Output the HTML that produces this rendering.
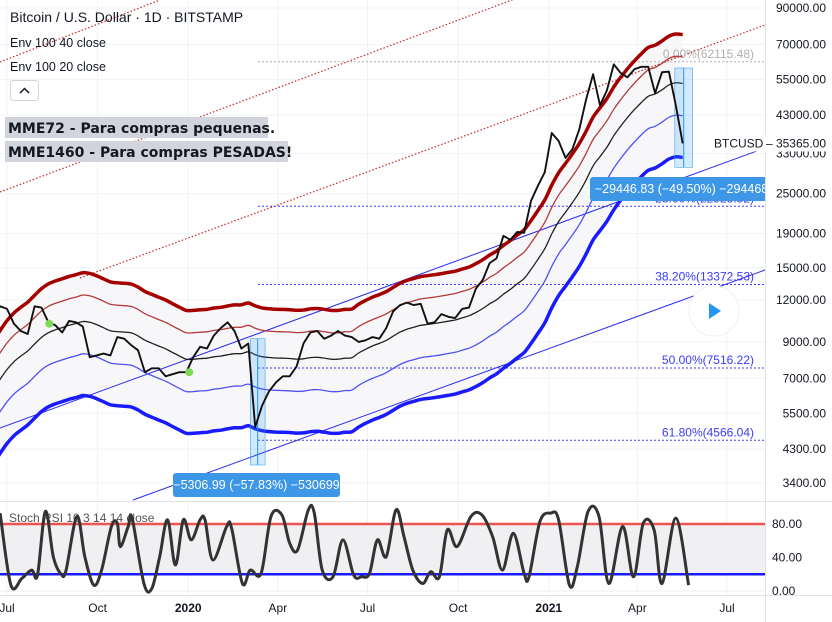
<!DOCTYPE html>
<html><head><meta charset="utf-8"><style>
body{margin:0;background:#fff;font-family:"Liberation Sans",sans-serif}
svg{display:block}
</style></head><body>
<svg id="chart" width="832" height="622" viewBox="0 0 832 622" xmlns="http://www.w3.org/2000/svg" font-family="Liberation Sans, sans-serif">
<defs>
<clipPath id="mainClip"><rect x="0" y="0" width="765" height="501"/></clipPath>
<clipPath id="stochClip"><rect x="0" y="502" width="765" height="93"/></clipPath>
</defs>
<rect width="832" height="622" fill="#fff"/>
<g id="grid"></g>
<g id="main" clip-path="url(#mainClip)"></g>
<g id="stoch"></g>
<g id="axes"></g>
<g id="overlay">
<text x="10" y="22" font-size="14" fill="#131722">Bitcoin / U.S. Dollar · 1D · BITSTAMP</text>
<text x="10" y="47" font-size="12.5" fill="#131722">Env 100 40 close</text>
<text x="10" y="71" font-size="12.5" fill="#131722">Env 100 20 close</text>
<g><rect x="10.5" y="80.5" width="28" height="20" rx="3" fill="#fff" stroke="#d1d4dc"/><path d="M20 93 L24.5 88.5 L29 93" fill="none" stroke="#131722" stroke-width="1.5"/></g>
<rect x="5" y="117" width="263" height="21" fill="#d1d4dc"/>
<text x="8" y="133" font-size="14" font-weight="bold" fill="#131722" font-family="DejaVu Sans, sans-serif">MME72 - Para compras pequenas.</text>
<rect x="5" y="141" width="283" height="21" fill="#d1d4dc"/>
<text x="8" y="157" font-size="14" font-weight="bold" fill="#131722" font-family="DejaVu Sans, sans-serif">MME1460 - Para compras PESADAS!</text>
<g><circle cx="714" cy="311" r="25" fill="#fff" stroke="#eef0f3"/><path d="M709 303 L721 311 L709 319 Z" fill="#2196f3"/></g>
</g>
</svg>
<script>
const startDay = -119; // 2019-03-04 relative to 2019-07-01
const weeklyCloses = [3900,4000,4000,4100,5000,5100,5300,5200,5700,7200,7300,8000,8500,7800,8900,10700,11500,
11300,10200,9700,9500,11500,11400,10300,10100,9600,10400,10300,10000,8100,8200,8300,8200,9300,9200,8800,8500,7300,7500,7500,7100,7200,7300,7300,
8100,8700,8600,9400,9900,10300,9700,8600,8900,5000,5800,6400,6800,7100,7100,7600,8900,9600,9700,9200,9400,9700,9400,9300,9000,9100,9300,9200,9900,11100,11600,11800,11600,11700,10200,10300,10900,10700,10600,11300,11400,13000,13800,15500,16000,18700,18200,19200,19100,23800,26400,29000,
38000,36000,32000,34000,39000,48000,57000,46000,51000,61000,57500,55800,59000,60000,60000,50000,57800,58000,46000,35365];
const priceTicks = [90000,70000,55000,43000,33000,25000,19000,15000,12000,9000,7000,5500,4300,3400];
const timeLabels = ["Jul","Oct","2020","Apr","Jul","Oct","2021","Apr","Jul"];
const timeDays = [0,92,184,275,366,458,550,640,731];
const fibLevels = [62115.48,22923.52,13372.53,7516.22,4566.04];
const fibLabels = ["0.00%(62115.48)","23.60%(22923.52)","38.20%(13372.53)","50.00%(7516.22)","61.80%(4566.04)"];
const stochDays = [-7,4,15,25,31,39,47,55,60,71,79,88,96,106,112,115,123,127,139,147,155,163,171,179,187,196,201,209,223,228,239,247,258,268,279,287,295,306,312,320,331,341,352,360,368,376,385,395,403,412,422,430,439,447,457,471,482,493,503,514,525,530,541,552,560,571,579,590,601,611,625,636,646,657,665,679,692];
const stochVals = [93,7,15,25,19,95,41,20,25,89,41,7,25,77,81,53,77,87,9,3,41,85,31,85,61,85,85,37,77,75,9,25,21,89,91,57,49,97,93,25,17,61,19,17,21,61,41,97,65,25,9,23,17,73,53,89,91,65,25,69,21,17,83,93,85,7,29,95,89,9,77,17,81,73,9,87,7];
const stochTicks = [80,40,0];

const NS="http://www.w3.org/2000/svg";
function el(tag,attrs,parent){const e=document.createElementNS(NS,tag);for(const k in attrs)e.setAttribute(k,attrs[k]);parent.appendChild(e);return e;}
const xOf = d => 7 + d*0.985;
const yOf = p => 8 + (Math.log(90000)-Math.log(p))*145;
const sY = v => 591 - v*0.8375;
function smooth(pts){let d='M'+pts[0][0].toFixed(1)+' '+pts[0][1].toFixed(1);
for(let i=0;i<pts.length-1;i++){const p0=pts[Math.max(0,i-1)],p1=pts[i],p2=pts[i+1],p3=pts[Math.min(pts.length-1,i+2)];
const c1=[p1[0]+(p2[0]-p0[0])/6,p1[1]+(p2[1]-p0[1])/6],c2=[p2[0]-(p3[0]-p1[0])/6,p2[1]-(p3[1]-p1[1])/6];
d+=' C'+c1[0].toFixed(1)+' '+c1[1].toFixed(1)+' '+c2[0].toFixed(1)+' '+c2[1].toFixed(1)+' '+p2[0].toFixed(1)+' '+p2[1].toFixed(1);}
return d;}
const grid=document.getElementById('grid'),main=document.getElementById('main'),stoch=document.getElementById('stoch'),axes=document.getElementById('axes');

priceTicks.forEach(p=>{const g=el('line',{x1:0,x2:765,y1:yOf(p),y2:yOf(p),stroke:'#f0f3fa'},grid);

});
timeDays.forEach(d=>{const g=el('line',{x1:xOf(d),x2:xOf(d),y1:0,y2:595,stroke:'#f0f3fa'},grid);

});

const days = weeklyCloses.map((c,i)=>startDay+7*i);
const ma = weeklyCloses.map((c,i)=>{const s=weeklyCloses.slice(Math.max(0,i-14),i+1);return s.reduce((a,b)=>a+b,0)/s.length;});
const bandPts=f=>ma.map((v,i)=>[xOf(days[i]),yOf(v*f)]);
const up40=bandPts(1.4), lo40=bandPts(0.6);
let fillD = up40.map((p,i)=>(i?'L':'M')+p[0].toFixed(1)+' '+p[1].toFixed(1)).join(' ');
for(let i=lo40.length-1;i>=0;i--) fillD+=' L'+lo40[i][0].toFixed(1)+' '+lo40[i][1].toFixed(1);
const fill=el('path',{d:fillD+'Z',fill:'#f7f7f9'},main);



[[0,192,765,-95],[80,278,765,25],[0,62,160,0]].forEach(l=>{const e=el('line',{x1:l[0],y1:l[1],x2:l[2],y2:l[3],stroke:'#c62828','stroke-dasharray':'1.5 2','stroke-width':1.2},main);

});
[[0,428,765,148],[133,500,765,270]].forEach(l=>{const e=el('line',{x1:l[0],y1:l[1],x2:l[2],y2:l[3],stroke:'#2b2bf0','stroke-width':1},main);

});
fibLevels.forEach((p,i)=>{const y=yOf(p);
const l=el('line',{x1:258,x2:765,y1:y,y2:y,stroke:i?'#3b3bf5':'#b0b0b0','stroke-dasharray':'2 2'},main);


const t=el('text',{x:754,y:y-4,'font-size':12,'text-anchor':'end',fill:i?'#3b3bf5':'#b0b0b0'},main);t.textContent=fibLabels[i];

});

[[1.4,'#a50000',3.5,'envelope-upper-40'],[1.2,'#b33a3a',1.3,'envelope-upper-20'],[1,'#222',1.3,'moving-average'],[0.8,'#5050f5',1.3,'envelope-lower-20'],[0.6,'#1a1aff',3.5,'envelope-lower-40']].forEach(b=>{
const e=el('path',{d:smooth(bandPts(b[0])),fill:'none',stroke:b[1],'stroke-width':b[2],'stroke-linejoin':'round'},main);

});

function measure(d0,d1,p0,p1,name){const x0=xOf(d0),x1=xOf(d1);const r=el('rect',{x:x0,y:yOf(p0),width:x1-x0,height:yOf(p1)-yOf(p0),fill:'rgba(33,150,243,0.2)',stroke:'#2196f3','stroke-width':0.5},main);


const ln=el('line',{x1:(x0+x1)/2,x2:(x0+x1)/2,y1:yOf(p0),y2:yOf(p1),stroke:'#2196f3'},main);

}
measure(247,262,9200,3850,'measure-2020-range');
measure(678,696,59500,30000,'measure-2021-range');

const pl=el('path',{d:weeklyCloses.map((v,i)=>(i?'L':'M')+xOf(days[i]).toFixed(1)+' '+yOf(v).toFixed(1)).join(' '),fill:'none',stroke:'#111','stroke-width':1.9,'stroke-linejoin':'round'},main);


[[50,10200],[192,7300]].forEach(g=>{const c=el('circle',{cx:xOf(g[0]-7),cy:yOf(g[1]),r:4,fill:'#7ed957'},main);

});

function label(x,y,w,txt,name){const r=el('rect',{x:x,y:y,width:w,height:24,rx:3,fill:'#3d97e6'},main);


const t=el('text',{x:x+w/2,y:y+16,'font-size':12.5,'text-anchor':'middle',fill:'#fff'},main);t.textContent=txt;

}
label(173,473,167,'\u22125306.99 (\u221257.83%) \u2212530699','measure-label-2020');
label(590,177,190,'\u221229446.83 (\u221249.50%) \u22122944683','measure-label-2021');

const ax=el('line',{x1:765.5,x2:765.5,y1:0,y2:622,stroke:'#e0e3eb'},axes);


priceTicks.forEach(p=>{const t=el('text',{x:826,y:yOf(p)+4,'font-size':12,'text-anchor':'end',fill:'#131722'},axes);t.textContent=p.toFixed(2);

});
const last=weeklyCloses[weeklyCloses.length-1];
const lb=el('rect',{x:710,y:yOf(last)-9,width:122,height:17,fill:'#fff'},axes);


const lt=el('text',{x:714,y:yOf(last)+4,'font-size':12,fill:'#131722'},axes);lt.textContent='BTCUSD';


const lv=el('text',{x:826,y:yOf(last)+4,'font-size':12,'text-anchor':'end',fill:'#131722'},axes);lv.textContent='\u2013 '+last.toFixed(2);



const sep=el('line',{x1:0,x2:832,y1:501.5,y2:501.5,stroke:'#e0e3eb'},stoch);


const sb=el('rect',{x:0,y:sY(80),width:765,height:sY(20)-sY(80),fill:'#f0f0f3'},stoch);


stochTicks.forEach(v=>{const g=el('line',{x1:0,x2:765,y1:sY(v),y2:sY(v),stroke:'#eceff4'},stoch);


const t=el('text',{x:772,y:sY(v)+4,'font-size':12,fill:'#131722'},stoch);t.textContent=v.toFixed(2);

});
const st=el('text',{x:9,y:522,'font-size':12,fill:'#555'},stoch);st.textContent='Stoch RSI 10 3 14 14 close';


const up=el('line',{x1:0,x2:765,y1:sY(80),y2:sY(80),stroke:'#ef5350','stroke-width':2.5},stoch);


const lo=el('line',{x1:0,x2:765,y1:sY(20),y2:sY(20),stroke:'#1a1aff','stroke-width':2.5},stoch);


const sp=el('path',{d:smooth(stochVals.map((v,i)=>[xOf(stochDays[i]),sY(v)])),fill:'none',stroke:'#333','stroke-width':3,'stroke-linejoin':'round','clip-path':'url(#stochClip)'},stoch);



const ta=el('line',{x1:0,x2:832,y1:595.5,y2:595.5,stroke:'#e0e3eb'},axes);


timeLabels.forEach((s,i)=>{const t=el('text',{x:xOf(timeDays[i]),y:612,'font-size':12,'text-anchor':'middle',fill:'#131722','font-weight':/20/.test(s)?'bold':'normal'},axes);t.textContent=s;

});
</script>
</body></html>
